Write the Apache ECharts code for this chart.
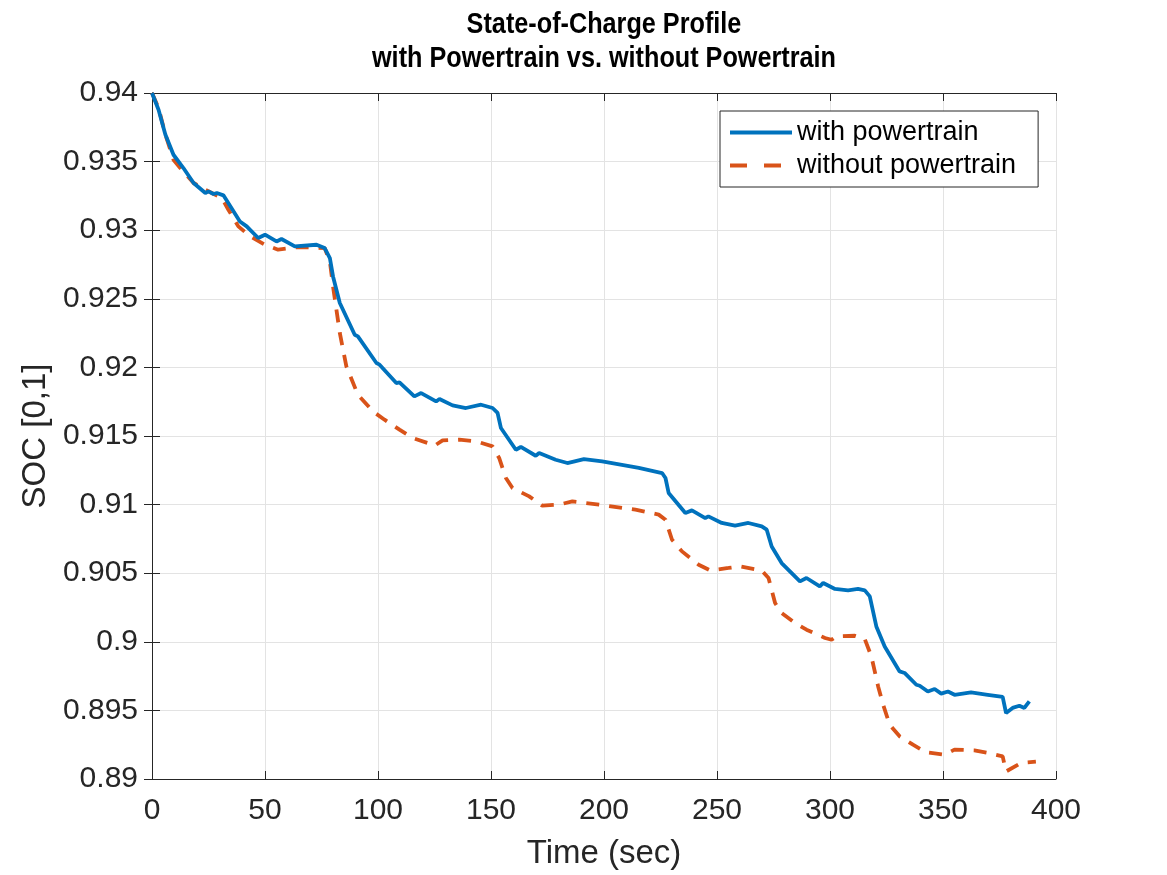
<!DOCTYPE html>
<html>
<head>
<meta charset="utf-8">
<title>State-of-Charge Profile</title>
<script src="https://cdn.jsdelivr.net/npm/echarts@6/dist/echarts.min.js"></script>
<style>
  html, body { margin: 0; padding: 0; background: #fff; }
  #main { width: 1167px; height: 875px; }
</style>
</head>
<body>
<div id="main"></div>
<script>
// time (sec) / SOC
var timeWith = [0, 2.9, 5.9, 9.5, 13.9, 18.4, 23.6, 25.0, 27.2, 28.7, 31.6, 38.9, 41.9, 47.0, 50.0, 55.1, 57.3, 63.2, 72.8, 76.4,
  78.7, 80.1, 83.1, 89.7, 91.1, 99.3, 100.7, 108.1, 109.5, 116.1, 119.1, 125.7, 127.2, 133.0, 138.9, 145.6, 150.7, 152.9, 154.4, 161.0,
  163.2, 169.8, 171.3, 178.6, 183.8, 191.1, 199.2, 215.4, 225.7, 227.2, 228.6, 236.0, 238.9, 244.8, 246.2, 252.1, 258.0, 263.9, 269.8, 272.0,
  274.2, 278.6, 286.7, 289.6, 295.5, 297.0, 302.2, 308.0, 312.4, 315.4, 317.6, 320.5, 324.2, 330.8, 333.0, 338.2, 339.7, 343.3, 346.3, 349.2,
  352.2, 355.1, 362.4, 369.8, 376.4, 377.9, 380.8, 383.8, 386.0, 388.2];
var socWith = [0.9400, 0.93878, 0.93698, 0.93550, 0.93453, 0.93344, 0.93271, 0.93283, 0.93264, 0.93271, 0.93254, 0.93064, 0.93028, 0.92943, 0.92967, 0.92918, 0.92936, 0.92882, 0.92894, 0.92870,
  0.92797, 0.92663, 0.92469, 0.92238, 0.92226, 0.92032, 0.92020, 0.91886, 0.91891, 0.91789, 0.91813, 0.91752, 0.91770, 0.91723, 0.91704, 0.91728, 0.91704, 0.91668, 0.91558, 0.91400,
  0.91420, 0.91356, 0.91376, 0.91327, 0.91303, 0.91332, 0.91315, 0.91267, 0.91230, 0.91194, 0.91085, 0.90939, 0.90958, 0.90902, 0.90914, 0.90866, 0.90846, 0.90866, 0.90841, 0.90817,
  0.90695, 0.90574, 0.90440, 0.90465, 0.90404, 0.90429, 0.90385, 0.90375, 0.90385, 0.90375, 0.90331, 0.90112, 0.89966, 0.89784, 0.89773, 0.89687, 0.89680, 0.89638, 0.89656, 0.89622,
  0.89638, 0.89614, 0.89631, 0.89614, 0.89598, 0.89481, 0.89518, 0.89534, 0.89518, 0.89566];

var timeWithout = [0, 2.9, 5.9, 9.5, 12.5, 18.4, 23.6, 30.9, 33.8, 38.2, 43.4, 50.0, 55.8, 64.0, 69.8, 76.4, 78.7, 80.1, 83.1, 86.0,
  91.1, 97.8, 102.9, 109.5, 115.4, 122.0, 125.0, 128.6, 136.0, 143.4, 150.7, 153.6, 156.6, 159.5, 166.9, 172.7, 180.1, 186.0, 197.8, 213.9,
  224.2, 227.2, 230.1, 234.5, 241.9, 247.0, 255.1, 260.3, 269.8, 272.8, 275.7, 278.6, 284.5, 289.6, 297.8, 300.7, 302.9, 311.0, 315.4, 318.3,
  321.3, 323.5, 326.4, 330.8, 336.7, 342.6, 350.7, 355.1, 363.9, 369.8, 376.4, 377.9, 384.5, 391.1];
var socWithout = [0.9400, 0.93891, 0.93698, 0.93514, 0.93453, 0.93344, 0.93295, 0.93235, 0.93149, 0.93028, 0.92955, 0.92894, 0.92858, 0.92875, 0.92875, 0.92870, 0.92773, 0.92590, 0.92251, 0.92007,
  0.91801, 0.91679, 0.91619, 0.91546, 0.91485, 0.91449, 0.91429, 0.91468, 0.91473, 0.91461, 0.91424, 0.91340, 0.91194, 0.91121, 0.91060, 0.90992, 0.91000, 0.91023, 0.91000, 0.90963,
  0.90927, 0.90890, 0.90744, 0.90659, 0.90562, 0.90520, 0.90538, 0.90550, 0.90520, 0.90465, 0.90283, 0.90210, 0.90137, 0.90088, 0.90028, 0.90015, 0.90039, 0.90044, 0.90020, 0.89894,
  0.89675, 0.89542, 0.89396, 0.89311, 0.89250, 0.89194, 0.89177, 0.89214, 0.89209, 0.89190, 0.89165, 0.89055, 0.89117, 0.89126];

var seriesNames = ['with powertrain', 'without powertrain'];
var xTicks = [0, 50, 100, 150, 200, 250, 300, 350, 400];
var yTicks = [0.89, 0.895, 0.9, 0.905, 0.91, 0.915, 0.92, 0.925, 0.93, 0.935, 0.94];

function zip(xs, ys) {
  return xs.map(function (x, i) { return [x, ys[i]]; });
}

var myChart = echarts.init(document.getElementById('main'));
var font = "'Liberation Sans', Arial, Helvetica, sans-serif";
var axisCol = '#262626';
var blue = '#0072BD', orange = '#D95319';

var xBase = {
  type: 'value',
  min: xTicks[0],
  max: xTicks[xTicks.length - 1],
  interval: 50,
  axisLine: { show: true, lineStyle: { color: axisCol, width: 1 } },
  axisTick: { show: true, inside: true, length: 8, lineStyle: { color: axisCol } }
};
var yBase = {
  type: 'value',
  min: yTicks[0],
  max: yTicks[yTicks.length - 1],
  interval: 0.005,
  axisLine: { show: true, lineStyle: { color: axisCol, width: 1 } },
  axisTick: { show: true, inside: true, length: 8, lineStyle: { color: axisCol } }
};

var option = {
  animation: false,
  backgroundColor: '#fff',
  // title drawn as graphic text so it can be squeezed like the narrow bold font of the original
  graphic: [{
    type: 'text',
    x: 604,
    y: 8,
    scaleX: 0.87,
    style: {
      text: 'State-of-Charge Profile\nwith Powertrain vs. without Powertrain',
      align: 'center',
      verticalAlign: 'top',
      fontFamily: font,
      fontWeight: 'bold',
      fontSize: 29,
      lineHeight: 34,
      fill: '#000'
    }
  }],
  grid: { left: 152, right: 111, top: 93, bottom: 96, containLabel: false },
  legend: {
    orient: 'vertical',
    left: 720,
    top: 111,
    padding: [8, 22, 8, 8],
    itemWidth: 62,
    itemHeight: 14,
    itemGap: 6,
    borderColor: axisCol,
    borderWidth: 1,
    backgroundColor: '#fff',
    itemStyle: { opacity: 0 },
    textStyle: { fontFamily: font, fontSize: 27, color: '#000' },
    data: [
      { name: seriesNames[0], lineStyle: { color: blue, width: 4 } },
      { name: seriesNames[1], lineStyle: { color: orange, width: 4, type: [17, 17] } }
    ]
  },
  xAxis: [
    Object.assign({}, xBase, {
      position: 'bottom',
      name: 'Time (sec)',
      nameLocation: 'middle',
      nameGap: 58,
      nameTextStyle: { fontFamily: font, fontSize: 33, color: axisCol },
      axisLabel: { fontFamily: font, fontSize: 30, color: axisCol, margin: 17 },
      splitLine: { show: true, lineStyle: { color: '#e3e3e3', width: 1 } }
    }),
    Object.assign({}, xBase, {
      position: 'top',
      axisLabel: { show: false },
      splitLine: { show: false }
    })
  ],
  yAxis: [
    Object.assign({}, yBase, {
      position: 'left',
      name: 'SOC [0,1]',
      nameLocation: 'middle',
      nameRotate: 90,
      nameGap: 88,
      nameTextStyle: { fontFamily: font, fontSize: 33, color: axisCol },
      axisLabel: {
        fontFamily: font, fontSize: 30, color: axisCol, margin: 14,
        formatter: function (v) { return String(parseFloat(v.toFixed(3))); }
      },
      splitLine: { show: true, lineStyle: { color: '#e3e3e3', width: 1 } }
    }),
    Object.assign({}, yBase, {
      position: 'right',
      axisLabel: { show: false },
      splitLine: { show: false }
    })
  ],
  series: [
    {
      name: seriesNames[0],
      type: 'line',
      xAxisIndex: 0,
      yAxisIndex: 0,
      symbol: 'none',
      smooth: false,
      data: zip(timeWith, socWith),
      lineStyle: { color: blue, width: 3.8 },
      itemStyle: { color: blue },
      z: 3
    },
    {
      name: seriesNames[1],
      type: 'line',
      xAxisIndex: 0,
      yAxisIndex: 0,
      symbol: 'none',
      smooth: false,
      data: zip(timeWithout, socWithout),
      lineStyle: { color: orange, width: 3.8, type: [13, 10] },
      itemStyle: { color: orange },
      z: 2
    }
  ]
};

option && myChart.setOption(option);
</script>
</body>
</html>
